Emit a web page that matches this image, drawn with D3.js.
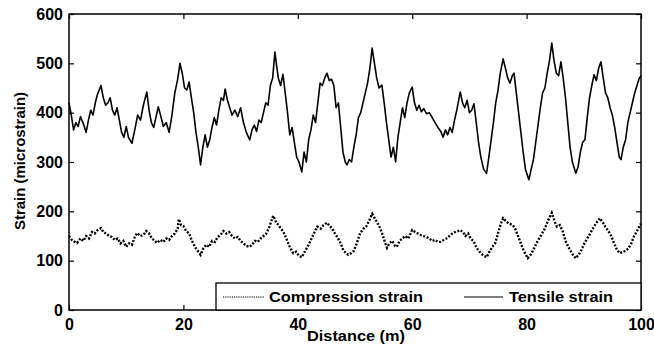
<!DOCTYPE html>
<html>
<head>
<meta charset="utf-8">
<script src="https://cdn.jsdelivr.net/npm/d3@7/dist/d3.min.js"></script>
<style>
  html, body { margin: 0; padding: 0; background: #fff; }
  svg text { font-family: "Liberation Sans", Arial, sans-serif; font-weight: bold; fill: #000; }
</style>
</head>
<body>
<svg id="chart" width="654" height="349"></svg>
<script>
// distance (m) and strain (microstrain)
const tensileDist = [0,0.4,0.8,1.2,1.6,2,2.5,3,3.4,3.8,4.2,4.6,5,5.6,6,6.4,6.8,7.2,7.6,8,8.4,8.8,9.2,9.6,10,10.4,11,11.5,12,12.5,13,13.6,14,14.4,14.8,15.2,15.6,16,16.5,17,17.5,18,18.5,19,19.4,19.8,20.2,20.6,21,21.4,21.8,22.2,22.6,23,23.4,23.8,24.2,24.6,25,25.4,25.8,26.2,26.6,27,27.3,27.7,28.1,28.5,29,29.5,30,30.5,31,31.6,32,32.4,32.8,33.2,33.6,34,34.4,34.8,35.2,35.6,36,36.3,36.6,37,37.4,37.8,38.2,38.6,39,39.4,39.8,40.2,40.7,41.1,41.5,41.9,42.3,42.7,43.1,43.5,43.9,44.3,44.7,45.1,45.5,45.9,46.3,46.7,47.1,47.5,47.9,48.3,48.6,49,49.4,49.8,50.2,50.6,51,51.4,51.8,52.2,52.6,53,53.4,53.8,54.2,54.7,55.1,55.5,55.9,56.3,56.7,57.1,57.5,57.9,58.3,58.7,59.1,59.5,60,60.4,60.8,61.2,61.6,62,62.5,63,63.5,64,64.5,65,65.4,65.8,66.2,66.6,67,67.4,67.8,68.2,68.4,68.8,69.2,69.6,70,70.4,70.8,71.2,71.6,72,72.5,73,73.4,73.8,74.2,74.6,75,75.4,75.9,76.3,76.7,77.1,77.5,77.8,78.2,78.6,79,79.4,79.8,80.4,80.8,81.2,81.6,82,82.4,82.8,83.2,83.6,84,84.4,84.8,85.2,85.6,86,86.4,86.8,87.2,87.6,88,88.6,89,89.4,89.8,90.2,90.6,91,91.4,91.8,92.2,92.6,93,93.4,93.8,94.2,94.6,95,95.4,95.8,96.2,96.5,96.9,97.3,97.7,98.1,98.5,98.9,99.3,99.7,100];
const tensileStrain = [420,395,365,380,372,392,378,360,385,405,395,420,438,455,430,415,420,430,405,395,410,385,360,350,372,350,338,365,395,385,415,442,405,380,370,390,412,395,372,380,360,395,440,468,500,480,450,446,462,430,400,360,330,294,330,355,330,345,370,390,375,405,430,425,448,425,410,395,405,392,410,380,360,345,365,375,362,385,380,400,420,415,455,470,523,495,470,455,478,440,400,355,370,340,310,300,280,320,300,345,365,395,380,420,460,455,470,480,465,468,455,410,420,370,320,300,294,305,300,330,355,390,400,420,440,460,490,531,500,470,450,456,420,380,345,310,330,300,350,380,410,390,420,440,452,420,405,415,402,408,398,400,390,380,370,362,350,365,355,370,360,385,405,430,442,420,410,425,400,405,418,380,340,310,285,277,310,345,380,420,445,480,509,490,470,460,475,480,440,400,360,320,285,264,285,305,340,375,410,440,450,480,505,541,505,480,475,503,470,430,380,330,300,277,290,320,340,345,390,430,455,477,465,490,503,470,440,430,410,395,370,340,310,305,330,345,380,400,420,440,455,470,475];

const compDist = [0,0.5,1,1.4,2,2.5,3,3.5,4,4.5,5,5.6,6,6.5,7,7.5,8,8.5,9,9.5,10,10.5,11,11.5,11.9,12.5,13,13.5,14,14.5,15,15.4,16,16.5,17,17.5,18,18.5,19,19.2,19.6,20,20.5,21,21.5,22,22.5,23,23.5,24,24.5,25,25.5,26,26.5,27,27.5,28,28.5,29,29.5,30,30.5,31,31.6,32,32.5,33,33.5,34,34.5,35,35.7,36.2,36.6,37,37.5,38,38.5,39.2,39.7,40.2,40.7,41.2,41.7,42.2,42.7,43.4,44,44.5,45.1,45.6,46,46.5,47,47.5,48,48.8,49.3,49.8,50.3,50.9,51.5,52,52.5,53,53.5,54,54.4,54.9,55.3,55.6,56,56.5,57,57.3,57.8,58.3,58.8,59.3,60,60.5,61,61.5,62,62.5,63,63.5,64,64.5,64.9,65.5,66,66.5,67,67.5,68,68.4,68.9,69.3,69.8,70.2,70.7,71.1,71.5,72,72.5,73,73.5,74,74.5,75,75.5,75.9,76.4,76.9,77.6,78,78.5,79,79.5,80.2,80.7,81.2,81.7,82.2,82.7,83.2,83.7,84.4,84.9,85.3,85.8,86.3,86.8,87.3,87.8,88.2,88.6,89.1,89.6,90.1,90.6,91.1,91.6,92.1,92.8,93.3,93.8,94.3,94.8,95.3,95.8,96.3,96.8,97.3,97.8,98.3,98.8,99.3,99.8,100];
const compStrain = [150,142,138,136,145,140,150,145,158,155,162,166,158,155,150,148,142,145,135,140,128,135,132,148,156,150,152,160,155,145,140,136,142,138,145,142,150,155,165,184,172,170,160,155,140,128,120,112,125,132,128,140,138,148,152,160,155,158,150,145,148,140,135,130,128,132,140,138,145,150,155,168,191,178,172,166,158,145,130,115,118,110,107,118,128,140,152,169,165,172,177,170,165,155,146,135,120,112,115,120,135,156,165,170,182,195,185,175,166,150,135,126,135,140,130,128,140,145,150,145,162,158,155,152,150,148,145,140,142,138,138,142,145,150,155,158,160,162,158,150,155,145,140,130,122,115,110,107,118,128,135,155,175,186,180,175,172,165,150,135,120,105,112,122,135,145,155,165,180,197,180,169,172,160,140,128,118,110,105,112,122,135,145,155,165,175,186,178,168,160,150,135,122,115,118,120,125,135,150,160,172,175];

const xTicks = [0, 20, 40, 60, 80, 100];
const yTicks = [0, 100, 200, 300, 400, 500, 600];
const legendNames = ["Compression strain", "Tensile strain"];

const svg = d3.select("#chart");
const plotL = 69, plotR = 641, plotT = 14, plotB = 310;

const x = d3.scaleLinear().domain([0, 100]).range([plotL, plotR]);
const y = d3.scaleLinear().domain([0, 600]).range([plotB, plotT]);

const line = d3.line().x(d => x(d[0])).y(d => y(d[1]));

// series
svg.append("path")
  .datum(d3.zip(compDist, compStrain))
  .attr("d", line)
  .attr("fill", "none")
  .attr("stroke", "#000")
  .attr("stroke-width", 2.4)
  .attr("stroke-dasharray", "2,1.6");

svg.append("path")
  .datum(d3.zip(tensileDist, tensileStrain))
  .attr("d", line)
  .attr("fill", "none")
  .attr("stroke", "#000")
  .attr("stroke-width", 1.6)
  .attr("stroke-linejoin", "round");

// axes with inward ticks, matlab style
const fmt = d3.format("d");
const xAxis = svg.append("g")
  .attr("transform", `translate(0,${plotB})`)
  .call(d3.axisBottom(x).tickValues(xTicks).tickSize(-5).tickPadding(8).tickFormat(fmt));
const yAxis = svg.append("g")
  .attr("transform", `translate(${plotL},0)`)
  .call(d3.axisLeft(y).tickValues(yTicks).tickSize(-5).tickPadding(6).tickFormat(fmt));
svg.append("g")
  .attr("transform", `translate(0,${plotT})`)
  .call(d3.axisTop(x).tickValues(xTicks).tickSize(-5).tickFormat(""));
svg.append("g")
  .attr("transform", `translate(${plotR},0)`)
  .call(d3.axisRight(y).tickValues(yTicks).tickSize(-5).tickFormat(""));

svg.selectAll(".domain").remove();
svg.selectAll(".tick line").attr("stroke", "#000").attr("stroke-width", 1.2);
[xAxis, yAxis].forEach(g => g.selectAll("text")
  .style("font-family", "'Liberation Sans', Arial, sans-serif")
  .style("font-weight", "bold")
  .style("font-size", "16px")
  .attr("fill", "#000"));
xAxis.selectAll("text").attr("dy", "0.78em");

// frame
svg.append("rect")
  .attr("x", plotL).attr("y", plotT)
  .attr("width", plotR - plotL).attr("height", plotB - plotT)
  .attr("fill", "none").attr("stroke", "#000").attr("stroke-width", 1.5);

// axis titles
svg.append("text")
  .attr("x", (plotL + plotR) / 2 + 1).attr("y", 341)
  .attr("text-anchor", "middle")
  .attr("font-size", 15)
  .attr("textLength", 98).attr("lengthAdjust", "spacingAndGlyphs")
  .text("Distance (m)");

svg.append("text")
  .attr("transform", "translate(25,161) rotate(-90)")
  .attr("text-anchor", "middle")
  .attr("font-size", 14.5)
  .attr("textLength", 138).attr("lengthAdjust", "spacingAndGlyphs")
  .text("Strain (microstrain)");

// legend
const lg = svg.append("g");
lg.append("rect")
  .attr("x", 216).attr("y", 283)
  .attr("width", plotR - 216).attr("height", plotB - 283)
  .attr("fill", "#fff").attr("stroke", "#000").attr("stroke-width", 1.3);

const legendItems = [
  { x0: 223, x1: 264, tx: 269, tl: 154, dash: "1.2,1" },
  { x0: 464, x1: 503, tx: 509, tl: 104, dash: null }
];
legendItems.forEach((it, i) => {
  lg.append("line")
    .attr("x1", it.x0).attr("x2", it.x1)
    .attr("y1", 297).attr("y2", 297)
    .attr("stroke", "#000").attr("stroke-width", 1)
    .attr("stroke-dasharray", it.dash);
  lg.append("text")
    .attr("x", it.tx).attr("y", 302)
    .attr("font-size", 14)
    .attr("textLength", it.tl).attr("lengthAdjust", "spacingAndGlyphs")
    .text(legendNames[i]);
});
</script>
</body>
</html>
